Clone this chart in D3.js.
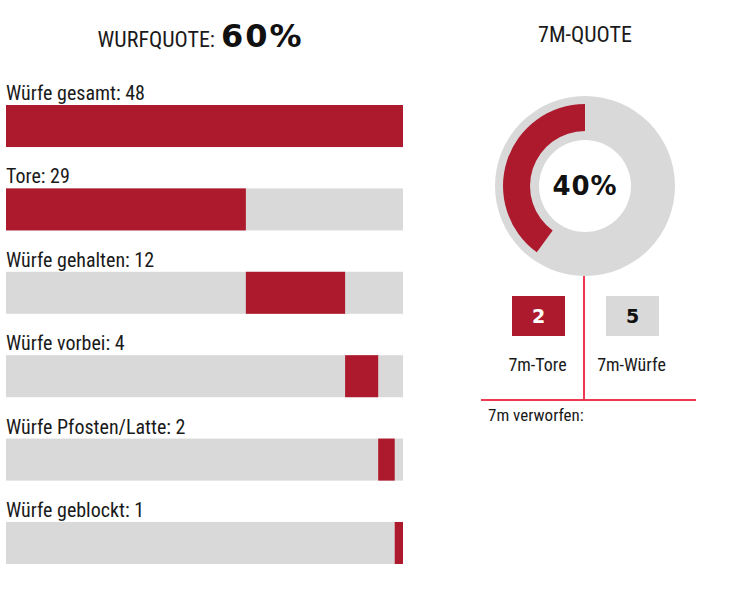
<!DOCTYPE html>
<html>
<head>
<meta charset="utf-8">
<script src="https://cdn.jsdelivr.net/npm/d3@7"></script>
<style>
  body { margin: 0; background: #fff; }
  .cond { font-family: "Liberation Sans Narrow", "Roboto Condensed", "Liberation Sans", sans-serif; fill: #1a1a1a; }
  .wide { font-family: "DejaVu Sans", sans-serif; font-weight: bold; fill: #111; }
</style>
</head>
<body>
<div id="chart"></div>
<script>
// Wurfstatistik
var labels = ["Würfe gesamt", "Tore", "Würfe gehalten", "Würfe vorbei", "Würfe Pfosten/Latte", "Würfe geblockt"];
var values = [48, 29, 12, 4, 2, 1];
var wurfquote = "60%";

// 7m
var sevenLabels = ["7m-Tore", "7m-Würfe"];
var sevenValues = [2, 5];
var sevenQuote = 0.40;

var red = "#ae1a2d", grey = "#d9d9d9", lineRed = "#ee3a4f";

var svg = d3.select("#chart").append("svg")
    .attr("width", 729)
    .attr("height", 596);

// ---- left: bars ----
var total = values[0];
var x = d3.scaleLinear().domain([0, total]).range([6, 403]);
var y = d3.scaleBand().domain(labels).range([105, 564]).paddingInner(0.496).paddingOuter(0);

// first bar is the total, the others follow one after another
var starts = [0];
var acc = 0;
for (var i = 1; i < values.length; i++) { starts.push(acc); acc += values[i]; }

svg.append("text")
    .attr("class", "cond")
    .attr("x", 215).attr("y", 47)
    .attr("text-anchor", "end")
    .style("font-size", "22px")
    .text("WURFQUOTE:");
svg.append("text")
    .attr("class", "wide")
    .attr("x", 221).attr("y", 47)
    .style("font-size", "32px")
    .style("letter-spacing", "2px")
    .text(wurfquote);

var rows = svg.selectAll("g.row")
    .data(labels)
    .enter().append("g")
    .attr("class", "row");

rows.append("text")
    .attr("class", "cond")
    .attr("x", 6)
    .attr("y", function(d) { return y(d) - 5; })
    .style("font-size", "20px")
    .text(function(d, i) { return d + ": " + values[i]; });

rows.append("rect")
    .attr("x", x(0))
    .attr("y", function(d) { return y(d); })
    .attr("width", x(total) - x(0))
    .attr("height", y.bandwidth())
    .style("fill", grey);

rows.append("rect")
    .attr("x", function(d, i) { return x(starts[i]); })
    .attr("y", function(d) { return y(d); })
    .attr("width", function(d, i) { return x(starts[i] + values[i]) - x(starts[i]); })
    .attr("height", y.bandwidth())
    .style("fill", red);

// ---- right: 7m donut ----
var cx = 585, cy = 186;

svg.append("text")
    .attr("class", "cond")
    .attr("x", cx).attr("y", 42)
    .attr("text-anchor", "middle")
    .style("font-size", "22px")
    .text("7M-QUOTE");

var donut = svg.append("g").attr("transform", "translate(" + cx + "," + cy + ")");

donut.append("path")
    .attr("d", d3.arc().innerRadius(46).outerRadius(90).startAngle(0).endAngle(2 * Math.PI)())
    .style("fill", grey);

donut.append("path")
    .attr("d", d3.arc().innerRadius(55).outerRadius(82).startAngle(-2 * Math.PI * sevenQuote).endAngle(0)())
    .style("fill", red);

donut.append("text")
    .attr("class", "wide")
    .attr("x", 0).attr("y", 9)
    .attr("text-anchor", "middle")
    .style("font-size", "26px")
    .style("letter-spacing", "1px")
    .text(Math.round(sevenQuote * 100) + "%");

// boxes
var bx = d3.scaleOrdinal().domain(sevenLabels).range([538.5, 632.5]);
var boxes = svg.selectAll("g.box")
    .data(sevenLabels)
    .enter().append("g")
    .attr("class", "box");

boxes.append("rect")
    .attr("x", function(d) { return bx(d) - 26.5; })
    .attr("y", 296)
    .attr("width", 53).attr("height", 40)
    .style("fill", function(d, i) { return i === 0 ? red : grey; });

boxes.append("text")
    .attr("class", "wide")
    .attr("x", function(d) { return bx(d); })
    .attr("y", 323)
    .attr("text-anchor", "middle")
    .style("font-size", "19px")
    .style("fill", function(d, i) { return i === 0 ? "#fff" : "#111"; })
    .text(function(d, i) { return sevenValues[i]; });

boxes.append("text")
    .attr("class", "cond")
    .attr("x", function(d) { return bx(d) - 1; })
    .attr("y", 371)
    .attr("text-anchor", "middle")
    .style("font-size", "18px")
    .text(function(d) { return d; });

svg.append("line")
    .attr("x1", 584).attr("x2", 584)
    .attr("y1", 276).attr("y2", 400)
    .style("stroke", lineRed).style("stroke-width", 2);
svg.append("line")
    .attr("x1", 481).attr("x2", 696)
    .attr("y1", 400).attr("y2", 400)
    .style("stroke", lineRed).style("stroke-width", 2);

svg.append("text")
    .attr("class", "cond")
    .attr("x", 488).attr("y", 421)
    .style("font-size", "17px")
    .text("7m verworfen:");
</script>
</body>
</html>
